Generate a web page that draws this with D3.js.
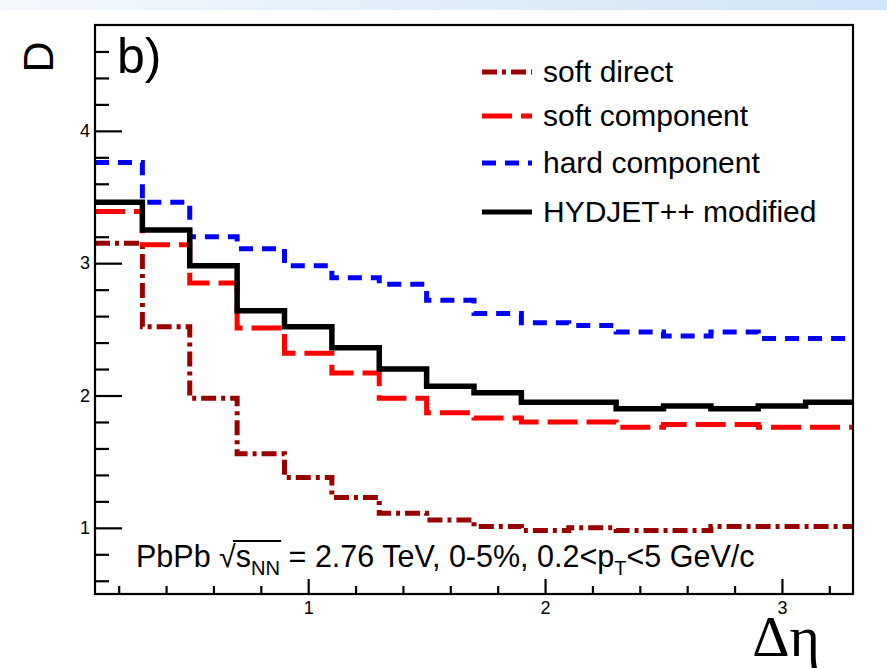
<!DOCTYPE html>
<html>
<head>
<meta charset="utf-8">
<script src="https://cdn.jsdelivr.net/npm/d3@7"></script>
<style>
  html, body { margin: 0; padding: 0; background: #ffffff; }
  svg { display: block; }
  text { font-family: "Liberation Sans", Arial, Helvetica, sans-serif; fill: #000; }
</style>
</head>
<body>
<svg id="chart" width="887" height="668"></svg>
<script>
// ---------------- data ----------------
const binEdges = [0.1, 0.3, 0.5, 0.7, 0.9, 1.1, 1.3, 1.5, 1.7, 1.9, 2.1, 2.3, 2.5, 2.7, 2.9, 3.1, 3.3];
const softDirect    = [3.15, 2.52, 1.98, 1.56, 1.38, 1.23, 1.11, 1.06, 1.01, 0.98, 1.00, 0.98, 0.98, 1.01, 1.01, 1.01];
const softComponent = [3.39, 3.14, 2.85, 2.51, 2.32, 2.17, 1.98, 1.87, 1.83, 1.80, 1.80, 1.76, 1.78, 1.78, 1.76, 1.76];
const hardComponent = [3.76, 3.46, 3.20, 3.11, 2.98, 2.89, 2.84, 2.72, 2.62, 2.55, 2.53, 2.48, 2.45, 2.48, 2.43, 2.43];
const hydjetModified= [3.46, 3.25, 2.98, 2.64, 2.52, 2.36, 2.20, 2.07, 2.02, 1.95, 1.95, 1.90, 1.92, 1.90, 1.92, 1.95];
const seriesNames = ["soft direct", "soft component", "hard component", "HYDJET++ modified"];
const xMajorTicks = [1, 2, 3];
const xMinorTicks = [0.2, 0.4, 0.6, 0.8, 1.2, 1.4, 1.6, 1.8, 2.2, 2.4, 2.6, 2.8, 3.2];
const yMajorTicks = [1, 2, 3, 4];
const yMinorTicks = [0.6, 0.8, 1.2, 1.4, 1.6, 1.8, 2.2, 2.4, 2.6, 2.8, 3.2, 3.4, 3.6, 3.8, 4.2, 4.4, 4.6];
const xDomain = [0.1, 3.3];
const yDomain = [0.5, 4.8];

// ---------------- layout ----------------
const svg = d3.select("#chart");
const L = 95, R = 853, T = 25, B = 594;

// top decorative band
const defs = svg.append("defs");
const grad = defs.append("linearGradient").attr("id", "band").attr("x1", "0").attr("x2", "1");
grad.append("stop").attr("offset", "0").attr("stop-color", "#f3f7fc");
grad.append("stop").attr("offset", "1").attr("stop-color", "#cfe5f8");
svg.append("rect").attr("x", 0).attr("y", 0).attr("width", 887).attr("height", 10).attr("fill", "url(#band)");

const x = d3.scaleLinear().domain(xDomain).range([L, R]);
const y = d3.scaleLinear().domain(yDomain).range([B, T]);

// axes (ticks inside frame)
const gy = svg.append("g").attr("transform", `translate(${L},0)`);
gy.call(d3.axisLeft(y).tickValues(yMinorTicks).tickSize(-14).tickFormat(""));
gy.call(g => g.select(".domain").remove());
const gyM = svg.append("g").attr("transform", `translate(${L},0)`);
gyM.call(d3.axisLeft(y).tickValues(yMajorTicks).tickSize(-27).tickPadding(5).tickFormat(d3.format("d")));
gyM.call(g => g.select(".domain").remove());

const gx = svg.append("g").attr("transform", `translate(0,${B})`);
gx.call(d3.axisBottom(x).tickValues(xMinorTicks).tickSize(-8).tickFormat(""));
gx.call(g => g.select(".domain").remove());
const gxM = svg.append("g").attr("transform", `translate(0,${B})`);
gxM.call(d3.axisBottom(x).tickValues(xMajorTicks).tickSize(-15).tickPadding(7).tickFormat(d3.format("d")));
gxM.call(g => g.select(".domain").remove());

svg.selectAll(".tick line").attr("stroke", "#000").attr("stroke-width", 2.2);
svg.selectAll(".tick text").style("font-size", "18px").attr("fill", "#000");

// histograms
const line = d3.line().x(d => x(d[0])).y(d => y(d[1])).curve(d3.curveStepAfter);
function pts(vals) {
  const p = vals.map((v, i) => [binEdges[i], v]);
  p.push([binEdges[binEdges.length - 1], vals[vals.length - 1]]);
  return p;
}
const styles = [
  { data: softDirect,     color: "#990000", dash: "15,5,4,5", w: 5 },
  { data: softComponent,  color: "#ff0000", dash: "30,9",     w: 5 },
  { data: hardComponent,  color: "#0000ff", dash: "14,9",     w: 5 },
  { data: hydjetModified, color: "#000000", dash: null,       w: 5.5 }
];
const clip = defs.append("clipPath").attr("id", "plotclip");
clip.append("rect").attr("x", L).attr("y", T).attr("width", R - L).attr("height", B - T);
const gl = svg.append("g").attr("clip-path", "url(#plotclip)");
styles.forEach(s => {
  gl.append("path").attr("d", line(pts(s.data)))
    .attr("fill", "none").attr("stroke", s.color).attr("stroke-width", s.w)
    .attr("stroke-dasharray", s.dash).attr("stroke-linejoin", "miter");
});

// frame
svg.append("rect").attr("x", L).attr("y", T).attr("width", R - L).attr("height", B - T)
  .attr("fill", "none").attr("stroke", "#000").attr("stroke-width", 2.2);

// legend
const legY = [72, 116, 163, 212];
styles.forEach((s, i) => {
  svg.append("line").attr("x1", 482).attr("x2", 532).attr("y1", legY[i]).attr("y2", legY[i])
    .attr("stroke", s.color).attr("stroke-width", 5).attr("stroke-dasharray", s.dash);
  svg.append("text").attr("x", 543).attr("y", legY[i] + 10).style("font-size", "30px").text(seriesNames[i]);
});

// labels
svg.append("text").attr("transform", "translate(53,57) rotate(-90)").attr("text-anchor", "middle")
  .style("font-size", "43px").text("D");
svg.append("text").attr("x", 117).attr("y", 73).style("font-size", "50px").text("b)");
svg.append("text").attr("x", 786).attr("y", 656).attr("text-anchor", "middle")
  .style("font-family", "'Liberation Serif', 'Times New Roman', serif").style("font-size", "58px").text("Δη");

// annotation with radical and subscripts
const ann = svg.append("g");
const fs = 30.5, base = 567;
let cx = 136;
function seg(str, size, dy) {
  const t = ann.append("text").attr("x", cx).attr("y", base + (dy || 0)).style("font-size", size + "px").text(str);
  const w = t.node().getComputedTextLength();
  const x0 = cx; cx += w; return [x0, cx];
}
seg("PbPb\u00A0", fs);
const rad = seg("\u221A", fs);
seg("s", fs);
const nn = seg("NN", fs * 0.66, 8);
ann.append("line").attr("x1", rad[1] - 3).attr("x2", nn[1] + 1).attr("y1", 541).attr("y2", 541)
  .attr("stroke", "#000").attr("stroke-width", 2);
seg("\u00A0=\u00A02.76 TeV, 0-5%, 0.2<p", fs);
seg("T", fs * 0.66, 8);
seg("<5 GeV/c", fs);
</script>
</body>
</html>
